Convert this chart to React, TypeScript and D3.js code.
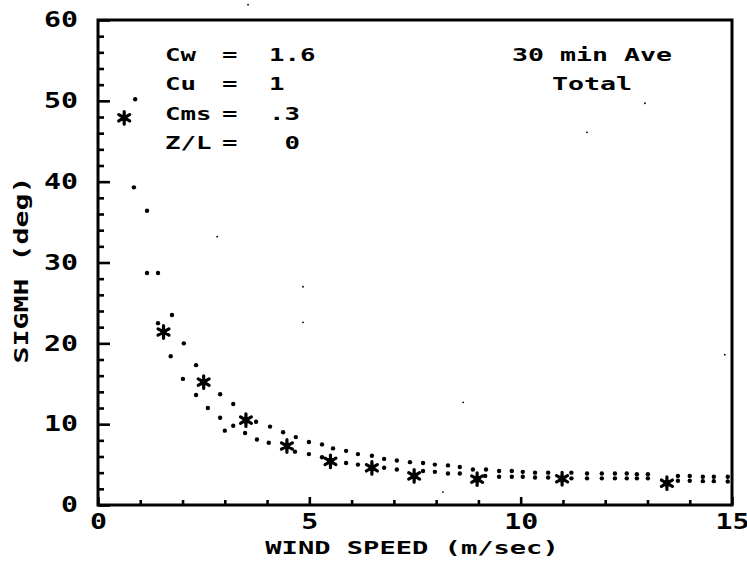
import { useEffect, useRef } from "react"
import * as d3 from "d3"

// tick values
const xMajorTicks = [0, 5, 10, 15]
const xMinorTicks = [1, 2, 3, 4, 6, 7, 8, 9, 11, 12, 13, 14]
const yMajorTicks = [0, 10, 20, 30, 40, 50, 60]
const yMinorTicks = [2, 4, 6, 8, 12, 14, 16, 18, 22, 24, 26, 28, 32, 34, 36, 38, 42, 44, 46, 48, 52, 54, 56, 58]

// measured 30 min averages (asterisks): [wind speed, sigma]
const measured: [number, number][] = [
  [0.62, 47.9], [1.55, 21.4], [2.5, 15.2], [3.5, 10.5], [4.47, 7.3], [5.5, 5.4],
  [6.48, 4.6], [7.48, 3.6], [8.97, 3.2], [10.98, 3.25], [13.46, 2.7],
]

// dotted curves: upper and lower model bounds
const upperBand: [number, number][] = [
  [0.88, 50.2], [1.16, 36.4], [1.42, 28.7], [1.75, 23.5], [2.03, 20.0], [2.32, 17.3],
  [2.89, 13.7], [3.2, 12.5], [3.74, 10.3], [4.07, 9.7], [4.38, 9.0], [4.68, 8.4],
  [4.99, 7.8], [5.3, 7.5], [5.56, 7.0], [5.87, 6.7], [6.15, 6.3], [6.48, 6.1],
  [6.77, 5.7], [7.07, 5.5], [7.38, 5.3], [7.69, 5.2], [7.97, 5.0], [8.28, 4.9],
  [8.56, 4.7], [8.87, 4.4], [9.18, 4.4], [9.49, 4.2], [9.79, 4.2], [10.05, 4.1],
  [10.34, 4.0], [10.65, 4.0], [11.2, 4.0], [11.57, 3.9], [11.92, 3.9], [12.23, 3.9],
  [12.51, 3.9], [12.75, 3.8], [13.01, 3.8], [13.72, 3.6], [14.0, 3.6], [14.31, 3.5],
  [14.57, 3.5], [14.9, 3.5],
]
const lowerBand: [number, number][] = [
  [0.85, 39.3], [1.16, 28.7], [1.42, 22.5], [1.72, 18.4], [2.01, 15.6], [2.32, 13.6],
  [2.6, 12.0], [2.89, 10.8], [3.0, 9.2], [3.2, 9.8], [3.48, 8.9], [3.76, 8.1],
  [4.04, 7.7], [4.66, 6.6], [4.99, 6.3], [5.3, 5.9], [5.87, 5.2], [6.15, 5.0],
  [6.77, 4.6], [7.07, 4.4], [7.69, 4.2], [7.97, 4.1], [8.28, 3.9], [8.56, 3.9],
  [9.16, 3.6], [9.49, 3.5], [9.79, 3.5], [10.05, 3.5], [10.34, 3.4], [10.65, 3.4],
  [11.2, 3.3], [11.57, 3.3], [11.92, 3.3], [12.23, 3.3], [12.51, 3.3], [12.75, 3.3],
  [13.01, 3.3], [13.72, 3.0], [14.0, 3.0], [14.31, 2.95], [14.57, 2.95], [14.9, 2.9],
]
// stray pen specks on the plot
const specks: [number, number][] = [
  [2.82, 33.2], [4.85, 27.0], [4.85, 22.6], [11.57, 46.1], [12.94, 49.7],
  [8.64, 12.7], [14.83, 18.6], [8.16, 1.6], [3.55, 61.9],
]

// annotation text
const paramNames = ["Cw", "Cu", "Cms", "Z/L"]
const paramValues = ["1.6", "1", ".3", " 0"]
const caption = ["30 min Ave", "Total"]

const FONT = "'DejaVu Sans Mono', monospace"

const asterisk = {
  draw(ctx: d3.Path, size: number) {
    const r = Math.sqrt(size) / 2
    for (let k = 0; k < 3; k++) {
      const a = Math.PI / 2 + (k * Math.PI) / 3
      ctx.moveTo(r * Math.cos(a), r * Math.sin(a))
      ctx.lineTo(-r * Math.cos(a), -r * Math.sin(a))
    }
  },
}

const App = () => {
  const svgRef = useRef<SVGSVGElement | null>(null)

  useEffect(() => {
    if (!svgRef.current) return
    const svg = d3.select(svgRef.current)
    svg.selectAll("*").remove()

    const x = d3.scaleLinear().domain([0, 15]).range([98, 732])
    const y = d3.scaleLinear().domain([0, 60]).range([505, 20])

    // plotter-style text: monospace stretched to a fixed advance
    const label = (
      g: d3.Selection<any, any, any, any>,
      str: string,
      px: number,
      py: number,
      size: number,
      adv: number,
      anchor = "start",
    ) =>
      g
        .append("text")
        .attr("x", px)
        .attr("y", py)
        .attr("font-family", FONT)
        .attr("font-weight", "bold")
        .attr("font-size", size)
        .attr("text-anchor", anchor)
        .attr("textLength", str.length * adv)
        .attr("lengthAdjust", "spacingAndGlyphs")
        .style("white-space", "pre")
        .attr("fill", "#000")
        .text(str)

    // Frame
    svg
      .append("rect")
      .attr("x", x(0))
      .attr("y", y(60))
      .attr("width", x(15) - x(0))
      .attr("height", y(0) - y(60))
      .attr("fill", "none")
      .attr("stroke", "#000")
      .attr("stroke-width", 3)

    const styleAxis = (g: d3.Selection<SVGGElement, unknown, null, undefined>) => {
      g.select(".domain").remove()
      g.selectAll("line").attr("stroke", "#000").attr("stroke-width", 2.6)
      g.selectAll("text")
        .attr("font-family", FONT)
        .attr("font-weight", "bold")
        .attr("font-size", 21)
        .attr("fill", "#000")
        .attr("textLength", (d: any) => String(d).length * 17)
        .attr("lengthAdjust", "spacingAndGlyphs")
    }

    // X axis
    svg
      .append("g")
      .attr("transform", `translate(0,${y(0)})`)
      .call(d3.axisBottom(x).tickValues(xMinorTicks).tickSize(-5).tickFormat(() => ""))
      .call(styleAxis)
    svg
      .append("g")
      .attr("transform", `translate(0,${y(0)})`)
      .call(d3.axisBottom(x).tickValues(xMajorTicks).tickSizeInner(-8).tickSizeOuter(0).tickPadding(9).tickFormat(d3.format("d")))
      .call(styleAxis)

    // Y axis
    svg
      .append("g")
      .attr("transform", `translate(${x(0)},0)`)
      .call(d3.axisLeft(y).tickValues(yMinorTicks).tickSize(-6).tickFormat(() => ""))
      .call(styleAxis)
    svg
      .append("g")
      .attr("transform", `translate(${x(0)},0)`)
      .call(d3.axisLeft(y).tickValues(yMajorTicks).tickSizeInner(-12).tickSizeOuter(0).tickPadding(20).tickFormat(d3.format("d")))
      .call(styleAxis)

    // Axis titles
    label(svg, "WIND SPEED (m/sec)", 412, 554, 18, 16.3, "middle")
    const yt = svg.append("g").attr("transform", "translate(28,270) rotate(-90)")
    label(yt, "SIGMH (deg)", 0, 0, 20, 17, "middle")

    // Annotations
    const ann = svg.append("g")
    paramNames.forEach((name, i) => {
      const by = 61 + i * 29.3
      label(ann, name, 165, by, 17, 15.5)
      label(ann, "=", 222, by, 17, 15.5)
      label(ann, paramValues[i], 269, by, 17, 15.5)
    })
    caption.forEach((line, i) => {
      label(ann, line, 592, 61 + i * 29.3, 17, 16, "middle")
    })

    // Dotted bands
    const dots = svg.append("g").attr("fill", "#000")
    dots
      .selectAll("circle.upper")
      .data(upperBand)
      .join("circle")
      .attr("class", "upper")
      .attr("cx", (d) => x(d[0]))
      .attr("cy", (d) => y(d[1]))
      .attr("r", 2.2)
    dots
      .selectAll("circle.lower")
      .data(lowerBand)
      .join("circle")
      .attr("class", "lower")
      .attr("cx", (d) => x(d[0]))
      .attr("cy", (d) => y(d[1]))
      .attr("r", 2.2)
    dots
      .selectAll("circle.speck")
      .data(specks)
      .join("circle")
      .attr("class", "speck")
      .attr("cx", (d) => x(d[0]))
      .attr("cy", (d) => y(d[1]))
      .attr("r", 0.9)

    // Measured asterisks
    const sym = d3.symbol().type(asterisk as any).size(160)
    const stars = svg.append("g")
    stars
      .selectAll("path")
      .data(measured)
      .join("path")
      .attr("transform", (d) => `translate(${x(d[0])},${y(d[1])})`)
      .attr("d", sym() as string)
      .attr("stroke", "#000")
      .attr("stroke-width", 3.2)
      .attr("stroke-linecap", "round")
      .attr("fill", "none")
    stars
      .selectAll("circle")
      .data(measured)
      .join("circle")
      .attr("cx", (d) => x(d[0]))
      .attr("cy", (d) => y(d[1]))
      .attr("r", 3.4)
      .attr("fill", "#000")
  }, [])

  return (
    <svg
      ref={svgRef}
      width={747}
      height={562}
      style={{ position: "absolute", left: 0, top: 0, background: "#fff" }}
    />
  )
}

export default App
